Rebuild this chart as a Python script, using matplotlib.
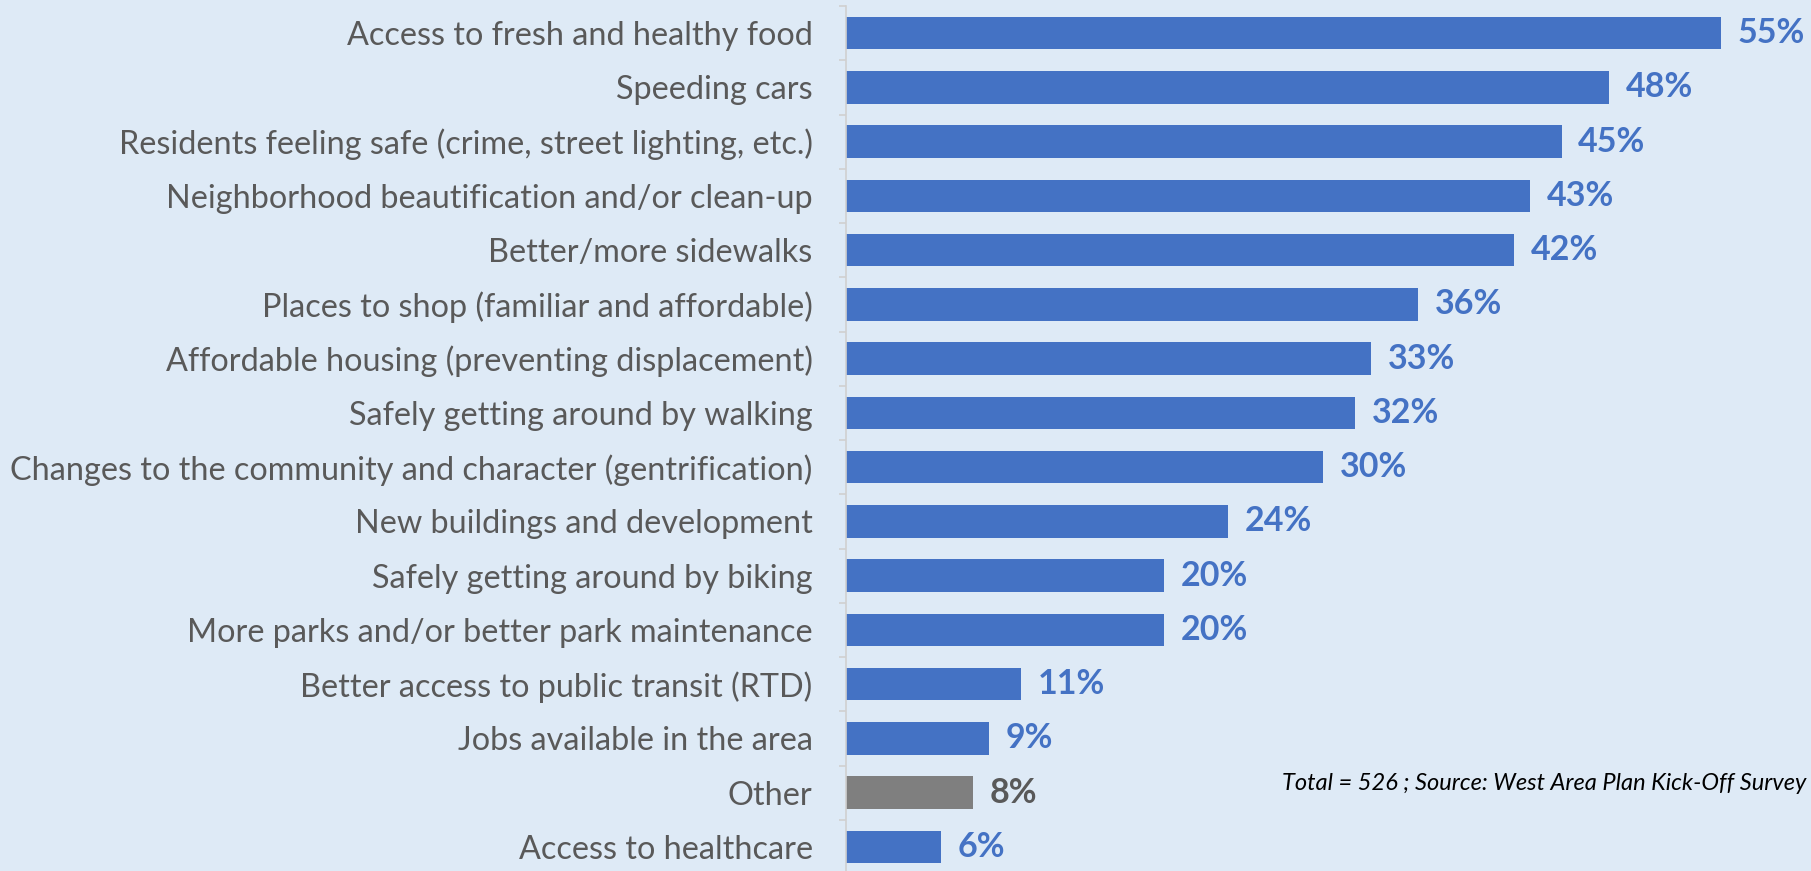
import matplotlib.pyplot as plt

# survey answers, top to bottom as shown
categories = [
    "Access to fresh and healthy food",
    "Speeding cars",
    "Residents feeling safe (crime, street lighting, etc.)",
    "Neighborhood beautification and/or clean-up",
    "Better/more sidewalks",
    "Places to shop (familiar and affordable)",
    "Affordable housing (preventing displacement)",
    "Safely getting around by walking",
    "Changes to the community and character (gentrification)",
    "New buildings and development",
    "Safely getting around by biking",
    "More parks and/or better park maintenance",
    "Better access to public transit (RTD)",
    "Jobs available in the area",
    "Other",
    "Access to healthcare",
]
percents = [55, 48, 45, 43, 42, 36, 33, 32, 30, 24, 20, 20, 11, 9, 8, 6]
note = "Total = 526 ; Source: West Area Plan Kick-Off Survey"

BG = "#DEEAF6"
BLUE = "#4472C4"
GREY = "#7F7F7F"
TEXT = "#595959"

plt.rcParams['font.family'] = ['Lato', 'DejaVu Sans']

W, H = 1811, 871
fig = plt.figure(figsize=(W / 100, H / 100), dpi=100, facecolor=BG)
ax = fig.add_axes([846 / W, -3 / H, 954 / W, 868 / H], facecolor=BG)

colors = [GREY if c == "Other" else BLUE for c in categories]
ypos = list(range(len(categories)))
ax.barh(ypos, percents, height=0.6, color=colors)

for y, p, c in zip(ypos, percents, categories):
    ax.text(p + 1.05, y, f"{p}%", va="center", ha="left", fontsize=24.5,
            fontweight="bold", color=TEXT if c == "Other" else BLUE)

ax.set_xlim(0, 60)
ax.set_ylim(len(categories) - 0.5, -0.5)
ax.set_yticks(ypos)
ax.set_yticklabels(categories, fontsize=23.3, color=TEXT)
ax.tick_params(axis="y", length=0, pad=24)
ax.set_yticks([i - 0.5 for i in range(len(categories) + 1)], minor=True)
ax.tick_params(axis="y", which="minor", length=5, color="#D0D0D0", width=1.2)
ax.set_xticks([])
for s in ["top", "right", "bottom"]:
    ax.spines[s].set_visible(False)
ax.spines["left"].set_color("#D0D0D0")
ax.spines["left"].set_linewidth(1.2)

fig.text(1282 / W, 1 - 783 / H, note, fontsize=17, style="italic",
         color="black", va="center", ha="left")

fig.savefig("out.png", dpi=100, facecolor=BG)
